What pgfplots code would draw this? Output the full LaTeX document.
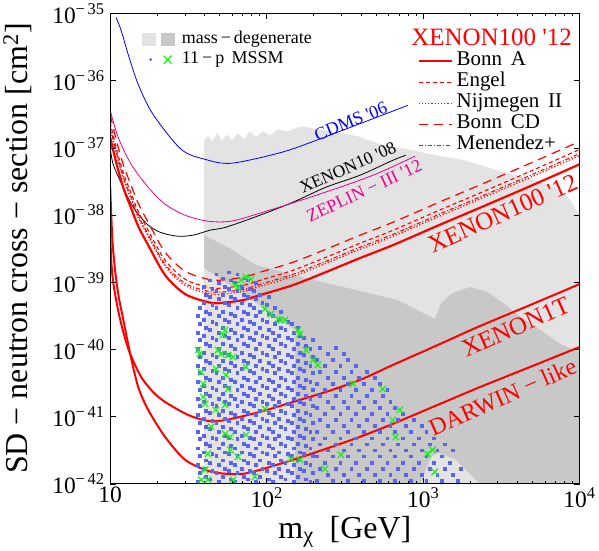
\documentclass[border=0pt]{standalone}
\usepackage{pgfplots}
\pgfplotsset{compat=1.18}
\usepackage{fontspec}
\setmainfont{Liberation Serif}

\definecolor{lgray}{RGB}{227,227,227}
\definecolor{dgray}{RGB}{200,200,200}
\definecolor{dotblue}{RGB}{90,100,240}
\definecolor{xgreen}{RGB}{20,240,20}

% all tables hold log10(m) and log10(sigma)
\pgfplotsset{table/lg/.style={x expr=10^(\thisrow{lm}), y expr=10^(\thisrow{ls}), row sep=\\}}

\begin{document}
\begin{tikzpicture}
\begin{axis}[
    name=main,
    xmode=log, ymode=log,
    width=470pt, height=471pt, scale only axis,
    xmin=10, xmax=1e4, ymin=1e-42, ymax=1e-35,
    xtick={10,100,1000,10000},
    xticklabels={10,10\textsuperscript{2},10\textsuperscript{3},10\textsuperscript{4}},
    ytick={1e-42,1e-41,1e-40,1e-39,1e-38,1e-37,1e-36,1e-35},
    yticklabels={10\textsuperscript{−\,42},10\textsuperscript{−\,41},10\textsuperscript{−\,40},10\textsuperscript{−\,39},10\textsuperscript{−\,38},10\textsuperscript{−\,37},10\textsuperscript{−\,36},10\textsuperscript{−\,35}},
    yminorticks=false,
    major tick length=6pt, minor tick length=3pt,
    every tick/.style={black, line width=0.6pt},
    axis line style={line width=0.9pt},
    ticklabel style={font=\fontsize{23.5}{23.5}\selectfont},
    yticklabel style={xshift=-2pt},
    xlabel={m\textsubscript{χ}\ \ [GeV]},
    ylabel={SD − neutron cross − section [cm\textsuperscript{2}]},
    label style={font=\fontsize{32}{32}\selectfont},
    ylabel shift=14pt,
    xlabel style={yshift=-2pt},
    axis on top,
    legend style={at={(0.648,0.925)}, anchor=north west, draw=none, fill=none,
        font=\fontsize{21}{21}\selectfont, row sep=0pt, column sep=3pt,
        nodes={inner sep=1pt, text height=14pt, text depth=5pt}},
    legend cell align=left,
    legend image code/.code={\draw[#1] (0pt,0pt) -- (33pt,0pt);},
]

% mass-degenerate regions
\addplot[fill=lgray, draw=none, forget plot] table[lg]{
lm ls\\
1.600 -42\\1.600 -36.889\\1.625 -36.814\\1.651 -36.903\\1.683 -36.785\\1.715 -36.889\\1.747 -36.799\\
1.779 -36.889\\1.817 -36.785\\1.855 -36.874\\1.893 -36.755\\1.932 -36.844\\1.976 -36.755\\2.021 -36.814\\
2.072 -36.725\\2.136 -36.755\\2.200 -36.695\\2.232 -36.680\\2.327 -36.725\\2.455 -36.770\\2.583 -36.829\\
2.729 -36.948\\2.902 -37.022\\3.049 -37.097\\3.266 -37.186\\3.476 -37.334\\3.687 -37.468\\3.827 -37.572\\
3.904 -37.676\\3.955 -37.825\\3.987 -37.958\\4.000 -38.033\\4.000 -42\\
} -- cycle;
\addplot[fill=dgray, draw=none, forget plot] table[lg]{
lm ls\\
1.600 -38.300\\1.785 -38.523\\1.932 -38.746\\2.059 -38.820\\2.200 -38.909\\2.410 -39.028\\2.627 -39.147\\
2.838 -39.266\\3.074 -39.548\\3.112 -39.325\\3.176 -39.177\\3.240 -39.117\\3.304 -39.073\\3.412 -39.147\\
3.521 -39.325\\3.623 -39.519\\3.751 -39.712\\3.878 -39.920\\4.000 -40.039\\4.000 -42\\3.361 -42\\
3.202 -41.629\\3.093 -41.539\\3.049 -41.599\\2.985 -42\\2.181 -42\\2.181 -39.712\\1.881 -39.221\\1.600 -38.790\\
} -- cycle;

% 11-p MSSM scan points
\addplot[only marks, mark=square*, mark size=1.4pt, color=dotblue, forget plot] table[lg]{
lm ls\\
1.558 -41.96\\1.572 -41.83\\1.558 -41.71\\1.572 -41.58\\1.558 -41.47\\1.572 -41.33\\1.558 -41.22\\1.572 -41.09\\1.558 -40.97\\1.572 -40.84\\1.558 -40.73\\1.572 -40.60\\1.558 -40.48\\1.572 -40.35\\1.558 -40.24\\1.572 -40.11\\1.558 -39.99\\1.572 -39.86\\1.558 -39.75\\1.572 -39.62\\1.558 -39.50\\1.572 -39.38\\
1.612 -41.90\\1.598 -41.77\\1.612 -41.65\\1.598 -41.53\\1.612 -41.40\\1.598 -41.28\\1.612 -41.15\\1.598 -41.03\\1.612 -40.91\\1.598 -40.78\\1.612 -40.66\\1.598 -40.54\\1.612 -40.42\\1.598 -40.29\\1.612 -40.17\\1.598 -40.05\\1.612 -39.92\\1.598 -39.80\\1.612 -39.68\\1.598 -39.56\\1.612 -39.44\\1.598 -39.31\\1.612 -39.19\\1.598 -39.07\\
1.638 -41.93\\1.652 -41.80\\1.638 -41.68\\1.652 -41.55\\1.638 -41.43\\1.652 -41.31\\1.638 -41.18\\1.652 -41.06\\1.638 -40.94\\1.652 -40.81\\1.638 -40.69\\1.652 -40.57\\1.638 -40.45\\1.652 -40.32\\1.638 -40.20\\1.652 -40.08\\1.638 -39.95\\1.652 -39.83\\1.638 -39.71\\1.652 -39.59\\1.638 -39.47\\1.652 -39.34\\1.638 -39.22\\1.652 -39.10\\1.638 -38.97\\
1.692 -41.96\\1.678 -41.83\\1.692 -41.71\\1.678 -41.58\\1.692 -41.47\\1.678 -41.33\\1.692 -41.22\\1.678 -41.09\\1.692 -40.97\\1.678 -40.84\\1.692 -40.73\\1.678 -40.60\\1.692 -40.48\\1.678 -40.35\\1.692 -40.24\\1.678 -40.11\\1.692 -39.99\\1.678 -39.86\\1.692 -39.75\\1.678 -39.62\\1.692 -39.50\\1.678 -39.38\\1.692 -39.25\\1.678 -39.13\\1.692 -39.01\\1.678 -38.88\\
1.718 -41.90\\1.732 -41.77\\1.718 -41.65\\1.732 -41.53\\1.718 -41.40\\1.732 -41.28\\1.718 -41.15\\1.732 -41.03\\1.718 -40.91\\1.732 -40.78\\1.718 -40.66\\1.732 -40.54\\1.718 -40.42\\1.732 -40.29\\1.718 -40.17\\1.732 -40.05\\1.718 -39.92\\1.732 -39.80\\1.718 -39.68\\1.732 -39.56\\1.718 -39.44\\1.732 -39.31\\1.718 -39.19\\1.732 -39.07\\1.718 -38.94\\
1.772 -41.93\\1.758 -41.80\\1.772 -41.68\\1.758 -41.55\\1.772 -41.43\\1.758 -41.31\\1.772 -41.18\\1.758 -41.06\\1.772 -40.94\\1.758 -40.81\\1.772 -40.69\\1.758 -40.57\\1.772 -40.45\\1.758 -40.32\\1.772 -40.20\\1.758 -40.08\\1.772 -39.95\\1.758 -39.83\\1.772 -39.71\\1.758 -39.59\\1.772 -39.47\\1.758 -39.34\\1.772 -39.22\\1.758 -39.10\\1.772 -38.97\\1.758 -38.85\\
1.798 -41.96\\1.812 -41.83\\1.798 -41.71\\1.812 -41.58\\1.798 -41.47\\1.812 -41.33\\1.798 -41.22\\1.812 -41.09\\1.798 -40.97\\1.812 -40.84\\1.798 -40.73\\1.812 -40.60\\1.798 -40.48\\1.812 -40.35\\1.798 -40.24\\1.812 -40.11\\1.798 -39.99\\1.812 -39.86\\1.798 -39.75\\1.812 -39.62\\1.798 -39.50\\1.812 -39.38\\1.798 -39.25\\1.812 -39.13\\1.798 -39.01\\1.812 -38.88\\
1.852 -41.90\\1.838 -41.77\\1.852 -41.65\\1.838 -41.53\\1.852 -41.40\\1.838 -41.28\\1.852 -41.15\\1.838 -41.03\\1.852 -40.91\\1.838 -40.78\\1.852 -40.66\\1.838 -40.54\\1.852 -40.42\\1.838 -40.29\\1.852 -40.17\\1.838 -40.05\\1.852 -39.92\\1.838 -39.80\\1.852 -39.68\\1.838 -39.56\\1.852 -39.44\\1.838 -39.31\\1.852 -39.19\\1.838 -39.07\\1.852 -38.94\\
1.878 -41.93\\1.892 -41.80\\1.878 -41.68\\1.892 -41.55\\1.878 -41.43\\1.892 -41.31\\1.878 -41.18\\1.892 -41.06\\1.878 -40.94\\1.892 -40.81\\1.878 -40.69\\1.892 -40.57\\1.878 -40.45\\1.892 -40.32\\1.878 -40.20\\1.892 -40.08\\1.878 -39.95\\1.892 -39.83\\1.878 -39.71\\1.892 -39.59\\1.878 -39.47\\1.892 -39.34\\1.878 -39.22\\1.892 -39.10\\1.878 -38.97\\
1.932 -41.96\\1.918 -41.83\\1.932 -41.71\\1.918 -41.58\\1.932 -41.47\\1.918 -41.33\\1.932 -41.22\\1.918 -41.09\\1.932 -40.97\\1.918 -40.84\\1.932 -40.73\\1.918 -40.60\\1.932 -40.48\\1.918 -40.35\\1.932 -40.24\\1.918 -40.11\\1.932 -39.99\\1.918 -39.86\\1.932 -39.75\\1.918 -39.62\\1.932 -39.50\\1.918 -39.38\\1.932 -39.25\\1.918 -39.13\\1.932 -39.01\\
1.958 -41.90\\1.972 -41.77\\1.958 -41.65\\1.972 -41.53\\1.958 -41.40\\1.972 -41.28\\1.958 -41.15\\1.972 -41.03\\1.958 -40.91\\1.972 -40.78\\1.958 -40.66\\1.972 -40.54\\1.958 -40.42\\1.972 -40.29\\1.958 -40.17\\1.972 -40.05\\1.958 -39.92\\1.972 -39.80\\1.958 -39.68\\1.972 -39.56\\1.958 -39.44\\1.972 -39.31\\1.958 -39.19\\
2.012 -41.93\\1.998 -41.80\\2.012 -41.68\\1.998 -41.55\\2.012 -41.43\\1.998 -41.31\\2.012 -41.18\\1.998 -41.06\\2.012 -40.94\\1.998 -40.81\\2.012 -40.69\\1.998 -40.57\\2.012 -40.45\\1.998 -40.32\\2.012 -40.20\\1.998 -40.08\\2.012 -39.95\\1.998 -39.83\\2.012 -39.71\\1.998 -39.59\\2.012 -39.47\\1.998 -39.34\\2.012 -39.22\\
2.038 -41.96\\2.052 -41.83\\2.038 -41.71\\2.052 -41.58\\2.038 -41.47\\2.052 -41.33\\2.038 -41.22\\2.052 -41.09\\2.038 -40.97\\2.052 -40.84\\2.038 -40.73\\2.052 -40.60\\2.038 -40.48\\2.052 -40.35\\2.038 -40.24\\2.052 -40.11\\2.038 -39.99\\2.052 -39.86\\2.038 -39.75\\2.052 -39.62\\2.038 -39.50\\2.052 -39.38\\
2.092 -41.90\\2.078 -41.77\\2.092 -41.65\\2.078 -41.53\\2.092 -41.40\\2.078 -41.28\\2.092 -41.15\\2.078 -41.03\\2.092 -40.91\\2.078 -40.78\\2.092 -40.66\\2.078 -40.54\\2.092 -40.42\\2.078 -40.29\\2.092 -40.17\\2.078 -40.05\\2.092 -39.92\\2.078 -39.80\\2.092 -39.68\\2.078 -39.56\\2.092 -39.44\\
2.118 -41.93\\2.132 -41.80\\2.118 -41.68\\2.132 -41.55\\2.118 -41.43\\2.132 -41.31\\2.118 -41.18\\2.132 -41.06\\2.118 -40.94\\2.132 -40.81\\2.118 -40.69\\2.132 -40.57\\2.118 -40.45\\2.132 -40.32\\2.118 -40.20\\2.132 -40.08\\2.118 -39.95\\2.132 -39.83\\2.118 -39.71\\2.132 -39.59\\
2.172 -41.96\\2.158 -41.83\\2.172 -41.71\\2.158 -41.58\\2.172 -41.47\\2.158 -41.33\\2.172 -41.22\\2.158 -41.09\\2.172 -40.97\\2.158 -40.84\\2.172 -40.73\\2.158 -40.60\\2.172 -40.48\\2.158 -40.35\\2.172 -40.24\\2.158 -40.11\\2.172 -39.99\\2.158 -39.86\\2.172 -39.75\\2.158 -39.62\\
2.198 -41.90\\2.212 -41.77\\2.198 -41.65\\2.212 -41.53\\2.198 -41.40\\2.212 -41.28\\2.198 -41.15\\2.212 -41.03\\2.198 -40.91\\2.212 -40.78\\2.198 -40.66\\2.212 -40.54\\2.198 -40.42\\2.212 -40.29\\2.198 -40.17\\2.212 -40.05\\2.198 -39.92\\2.212 -39.80\\2.198 -39.68\\
2.252 -41.93\\2.238 -41.80\\2.252 -41.68\\2.238 -41.55\\2.252 -41.43\\2.238 -41.31\\2.252 -41.18\\2.238 -41.06\\2.252 -40.94\\2.238 -40.81\\2.252 -40.69\\2.238 -40.57\\2.252 -40.45\\2.238 -40.32\\2.252 -40.20\\2.238 -40.08\\2.252 -39.95\\2.238 -39.83\\
2.278 -41.96\\2.292 -41.83\\2.278 -41.71\\2.292 -41.58\\2.278 -41.47\\2.292 -41.33\\2.278 -41.22\\2.292 -41.09\\2.278 -40.97\\2.292 -40.84\\2.278 -40.73\\2.292 -40.60\\2.278 -40.48\\2.292 -40.35\\2.278 -40.24\\2.292 -40.11\\2.278 -39.99\\2.292 -39.86\\
2.32 -41.95\\2.34 -41.77\\2.32 -41.59\\2.34 -41.41\\2.32 -41.23\\2.34 -41.05\\2.32 -40.87\\2.34 -40.69\\2.32 -40.51\\2.34 -40.33\\2.32 -40.15\\2.34 -39.97\\
2.39 -41.86\\2.37 -41.68\\2.39 -41.50\\2.37 -41.32\\2.39 -41.14\\2.37 -40.96\\2.39 -40.78\\2.37 -40.60\\2.39 -40.42\\2.37 -40.24\\2.39 -40.06\\
2.42 -41.95\\2.44 -41.77\\2.42 -41.59\\2.44 -41.41\\2.42 -41.23\\2.44 -41.05\\2.42 -40.87\\2.44 -40.69\\2.42 -40.51\\2.44 -40.33\\2.42 -40.15\\2.44 -39.97\\
2.49 -41.86\\2.47 -41.68\\2.49 -41.50\\2.47 -41.32\\2.49 -41.14\\2.47 -40.96\\2.49 -40.78\\2.47 -40.60\\2.49 -40.42\\2.47 -40.24\\2.49 -40.06\\
2.52 -41.95\\2.54 -41.77\\2.52 -41.59\\2.54 -41.41\\2.52 -41.23\\2.54 -41.05\\2.52 -40.87\\2.54 -40.69\\2.52 -40.51\\2.54 -40.33\\2.52 -40.15\\
2.59 -41.86\\2.57 -41.68\\2.59 -41.50\\2.57 -41.32\\2.59 -41.14\\2.57 -40.96\\2.59 -40.78\\2.57 -40.60\\2.59 -40.42\\2.57 -40.24\\
2.62 -41.95\\2.64 -41.77\\2.62 -41.59\\2.64 -41.41\\2.62 -41.23\\2.64 -41.05\\2.62 -40.87\\2.64 -40.69\\2.62 -40.51\\2.64 -40.33\\
2.69 -41.86\\2.67 -41.68\\2.69 -41.50\\2.67 -41.32\\2.69 -41.14\\2.67 -40.96\\2.69 -40.78\\2.67 -40.60\\2.69 -40.42\\
2.72 -41.95\\2.74 -41.77\\2.72 -41.59\\2.74 -41.41\\2.72 -41.23\\2.74 -41.05\\2.72 -40.87\\2.74 -40.69\\2.72 -40.51\\
2.79 -41.86\\2.77 -41.68\\2.79 -41.50\\2.77 -41.32\\2.79 -41.14\\2.77 -40.96\\2.79 -40.78\\2.77 -40.60\\
2.82 -41.95\\2.84 -41.77\\2.82 -41.59\\2.84 -41.41\\2.82 -41.23\\2.84 -41.05\\2.82 -40.87\\
2.89 -41.86\\2.87 -41.68\\2.89 -41.50\\2.87 -41.32\\2.89 -41.14\\2.87 -40.96\\
2.92 -41.95\\2.94 -41.77\\2.92 -41.59\\2.94 -41.41\\2.92 -41.23\\2.94 -41.05\\
2.99 -41.86\\2.97 -41.68\\2.99 -41.50\\2.97 -41.32\\2.99 -41.14\\
3.02 -41.95\\3.04 -41.77\\3.02 -41.59\\3.04 -41.41\\3.02 -41.23\\
3.09 -41.86\\3.07 -41.68\\3.09 -41.50\\3.07 -41.32\\
3.12 -41.95\\3.14 -41.77\\3.12 -41.59\\3.14 -41.41\\
3.19 -41.86\\3.17 -41.68\\3.19 -41.50\\
3.22 -41.95\\3.24 -41.77\\
};

% highlighted points
\addplot[only marks, mark=x, mark size=4.5pt, mark options={line width=1.2pt}, color=xgreen, forget plot] table[lg]{
lm ls\\
1.798 -39.043\\1.836 -38.969\\1.868 -38.924\\1.900 -38.954\\1.817 -39.073\\1.989 -39.400\\2.027 -39.474\\
2.072 -39.548\\2.091 -39.563\\2.117 -39.563\\2.200 -39.712\\2.213 -39.771\\1.734 -39.712\\1.721 -39.786\\
1.562 -40.009\\1.574 -40.068\\1.689 -40.009\\1.708 -40.068\\1.753 -40.083\\1.785 -40.113\\1.868 -40.261\\
1.676 -40.291\\1.581 -40.336\\1.740 -40.380\\2.251 -40.009\\2.296 -40.157\\2.327 -40.232\\1.594 -40.514\\
1.753 -40.588\\1.594 -40.707\\1.606 -40.811\\1.734 -40.826\\1.676 -40.900\\1.989 -40.886\\2.551 -40.514\\
2.742 -40.588\\2.851 -40.900\\2.806 -41.049\\2.825 -41.302\\1.645 -41.153\\1.734 -41.257\\1.766 -41.302\\
1.868 -41.272\\1.625 -41.554\\1.766 -41.495\\1.817 -41.599\\2.155 -41.629\\2.213 -41.643\\2.372 -41.777\\
2.474 -41.569\\3.029 -41.554\\3.061 -41.495\\3.074 -41.822\\1.606 -41.792\\1.625 -41.941\\1.785 -41.941\\
1.925 -41.896\\1.581 -41.941\\
};

% older limits
\addplot[blue, line width=0.8pt, smooth, forget plot] table[lg]{
lm ls\\
1.038 -35.061\\1.070 -35.254\\1.115 -35.611\\1.179 -36.056\\1.274 -36.502\\1.453 -37.022\\
1.606 -37.171\\1.772 -37.230\\2.072 -37.082\\2.283 -36.918\\2.902 -36.368\\
};
\addplot[black, line width=0.8pt, smooth, forget plot] table[lg]{
lm ls\\
1.000 -36.993\\1.019 -37.245\\1.083 -37.587\\1.147 -37.884\\1.236 -38.137\\1.319 -38.256\\1.428 -38.315\\
1.530 -38.300\\1.638 -38.226\\1.740 -38.181\\1.957 -38.003\\2.168 -37.810\\2.378 -37.587\\2.595 -37.409\\
2.806 -37.186\\2.889 -37.111\\
};
\addplot[magenta, line width=0.8pt, smooth, forget plot] table[lg]{
lm ls\\
1.000 -36.443\\1.051 -36.844\\1.134 -37.245\\1.243 -37.587\\1.351 -37.839\\1.479 -38.003\\1.625 -38.092\\
1.772 -38.092\\1.957 -37.973\\2.200 -37.795\\2.487 -37.572\\2.710 -37.379\\2.947 -37.126\\
};

% XENON100 '12 with different structure functions
\addplot[red, line width=1.2pt, dash pattern=on 9pt off 6pt, smooth, forget plot] table[lg]{
lm ls\\
1.000 -36.504\\1.038 -36.875\\1.083 -37.247\\1.134 -37.559\\1.179 -37.826\\1.243 -38.109\\1.351 -38.554\\
1.479 -38.837\\1.625 -38.956\\1.700 -38.970\\1.849 -38.926\\1.957 -38.852\\2.168 -38.703\\2.378 -38.510\\
2.595 -38.302\\2.806 -38.109\\3.093 -37.819\\3.349 -37.566\\3.668 -37.247\\4.000 -36.905\\
};
\addplot[red, line width=1.1pt, dash pattern=on 4pt off 3pt, smooth, forget plot] table[lg]{
lm ls\\
1.000 -36.624\\1.038 -36.995\\1.083 -37.367\\1.134 -37.679\\1.179 -37.946\\1.243 -38.229\\1.351 -38.674\\
1.479 -38.957\\1.625 -39.076\\1.700 -39.090\\1.849 -39.046\\1.957 -38.972\\2.168 -38.823\\2.378 -38.630\\
2.595 -38.422\\2.806 -38.229\\3.093 -37.939\\3.349 -37.686\\3.668 -37.367\\4.000 -37.025\\
};
\addplot[red, line width=1.2pt, dash pattern=on 1.2pt off 2pt, smooth, forget plot] table[lg]{
lm ls\\
1.000 -36.714\\1.038 -37.085\\1.083 -37.457\\1.134 -37.769\\1.179 -38.036\\1.243 -38.319\\1.351 -38.764\\
1.479 -39.047\\1.625 -39.166\\1.700 -39.180\\1.849 -39.136\\1.957 -39.062\\2.168 -38.913\\2.378 -38.720\\
2.595 -38.512\\2.806 -38.319\\3.093 -38.029\\3.349 -37.776\\3.668 -37.457\\4.000 -37.115\\
};
\addplot[red, line width=1.1pt, dash pattern=on 4pt off 2pt on 1pt off 2pt, smooth, forget plot] table[lg]{
lm ls\\
1.000 -36.684\\1.038 -37.055\\1.083 -37.427\\1.134 -37.739\\1.179 -38.006\\1.243 -38.289\\1.351 -38.734\\
1.479 -39.017\\1.625 -39.136\\1.700 -39.150\\1.849 -39.106\\1.957 -39.032\\2.168 -38.883\\2.378 -38.690\\
2.595 -38.482\\2.806 -38.289\\3.093 -37.999\\3.349 -37.746\\3.668 -37.427\\4.000 -37.085\\
};
\addplot[red, line width=2.2pt, smooth, forget plot] table[lg]{
lm ls\\
1.000 -36.844\\1.038 -37.215\\1.083 -37.587\\1.134 -37.899\\1.179 -38.166\\1.243 -38.449\\1.351 -38.894\\
1.479 -39.177\\1.625 -39.296\\1.700 -39.310\\1.849 -39.266\\1.957 -39.192\\2.168 -39.043\\2.378 -38.850\\
2.595 -38.642\\2.806 -38.449\\3.093 -38.159\\3.349 -37.906\\3.668 -37.587\\4.000 -37.245\\
};

% projections
\addplot[red, line width=2pt, smooth, forget plot] table[lg]{
lm ls\\
1.000 -38.181\\1.006 -38.657\\1.019 -38.999\\1.038 -39.266\\1.057 -39.489\\1.089 -39.786\\1.128 -40.068\\
1.198 -40.410\\1.274 -40.633\\1.351 -40.782\\1.498 -40.975\\1.625 -41.064\\1.740 -41.049\\1.957 -40.930\\
2.168 -40.782\\2.378 -40.633\\2.595 -40.455\\2.806 -40.232\\3.093 -39.935\\3.349 -39.667\\3.668 -39.355\\
4.000 -39.028\\
};
\addplot[red, line width=2pt, smooth, forget plot] table[lg]{
lm ls\\
1.000 -37.587\\1.013 -38.330\\1.026 -38.701\\1.038 -38.954\\1.057 -39.251\\1.083 -39.548\\1.128 -40.068\\
1.179 -40.559\\1.243 -40.900\\1.351 -41.302\\1.479 -41.643\\1.625 -41.807\\1.740 -41.851\\1.849 -41.851\\
1.957 -41.792\\2.168 -41.643\\2.378 -41.480\\2.595 -41.302\\2.806 -41.108\\3.093 -40.826\\3.349 -40.574\\
3.668 -40.276\\4.000 -39.964\\
};

% curve labels
\node[rotate=22, text=blue, font=\fontsize{18}{18}\selectfont] at (axis cs:345,2.48e-37) {CDMS \textquotesingle06};
\node[rotate=24, text=black, font=\fontsize{17.5}{17.5}\selectfont] at (axis cs:330,5.1e-38) {XENON10 \textquotesingle08};
\node[rotate=25, text=magenta, font=\fontsize{18}{18}\selectfont] at (axis cs:420,2.3e-38) {ZEPLIN − III \textquotesingle12};
\node[rotate=24, text=red, font=\fontsize{25}{25}\selectfont] at (axis cs:3220,1.06e-38) {XENON100 \textquotesingle12};
\node[rotate=24, text=red, font=\fontsize{25}{25}\selectfont] at (axis cs:3900,2.15e-40) {XENON1T};
\node[rotate=24, text=red, font=\fontsize{24}{24}\selectfont] at (axis cs:3220,1.96e-41) {DARWIN − like};
\node[anchor=west, text=red, font=\fontsize{25}{25}\selectfont] at (rel axis cs:0.634,0.949) {XENON100 \textquotesingle12};

\addlegendimage{draw=red, line width=2.2pt}
\addlegendentry{Bonn\, A}
\addlegendimage{draw=red, line width=1.1pt, dash pattern=on 4pt off 3pt}
\addlegendentry{Engel}
\addlegendimage{draw=red, line width=1.2pt, dash pattern=on 1.2pt off 2pt}
\addlegendentry{Nijmegen\, II}
\addlegendimage{draw=red, line width=1.2pt, dash pattern=on 9pt off 6pt}
\addlegendentry{Bonn\, CD}
\addlegendimage{draw=red, line width=1.1pt, dash pattern=on 4pt off 2pt on 1pt off 2pt}
\addlegendentry{Menendez+}
\end{axis}

\begin{axis}[
    width=470pt, height=471pt, scale only axis, hide axis,
    xmin=0, xmax=1, ymin=0, ymax=1,
    legend style={at={(0.062,0.968)}, anchor=north west, draw=none, fill=none,
        font=\fontsize{18}{18}\selectfont, row sep=2pt, column sep=6pt,
        nodes={inner sep=1pt, text height=12pt, text depth=4pt}},
    legend cell align=left,
]
\addlegendimage{legend image code/.code={
    \fill[lgray] (0pt,-6pt) rectangle (13pt,6pt);
    \fill[dgray] (19pt,-6pt) rectangle (32pt,6pt);}}
\addlegendentry{mass\,−\,degenerate}
\addlegendimage{legend image code/.code={
    \fill[dotblue] (8pt,0pt) circle (1.2pt);
    \draw[xgreen, line width=1.3pt] (21pt,-4pt) -- (29pt,4pt) (21pt,4pt) -- (29pt,-4pt);}}
\addlegendentry{11\,−\,p\, MSSM}
\end{axis}
\end{tikzpicture}
\end{document}
